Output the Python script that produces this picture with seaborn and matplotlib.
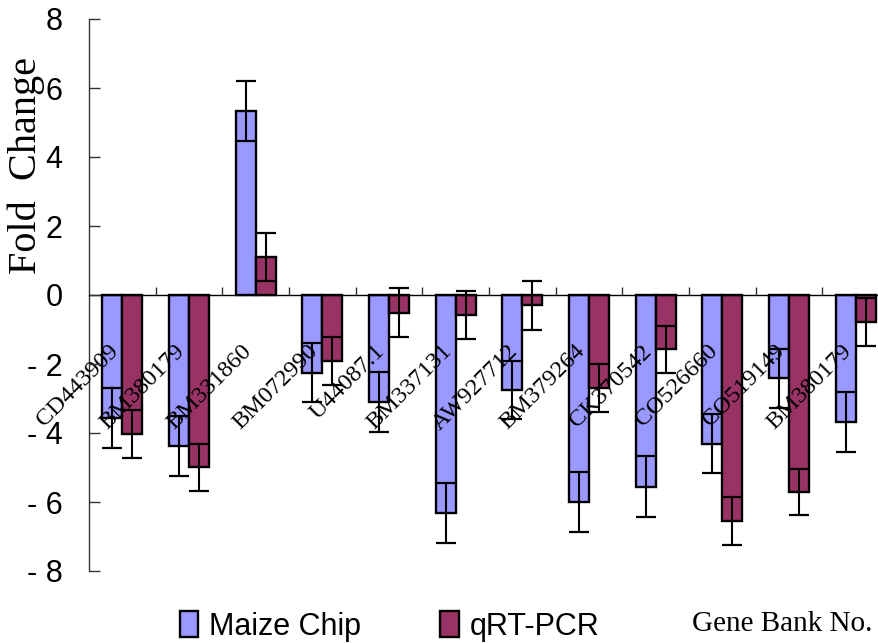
import numpy as np
import pandas as pd
import matplotlib
matplotlib.use("Agg")
import matplotlib.pyplot as plt
import seaborn as sns

# -----------------------------
# Data
# -----------------------------
genes = ["CD443909", "BM380179", "BM331860", "BM072990", "U44087.1", "BM337131",
         "AW927712", "BM379264", "CK370542", "CO526660", "CO519149", "BM380179"]
chip = [-3.57, -4.38, 5.33, -2.25, -3.10, -6.33, -2.76, -5.99, -5.56, -4.31, -2.42, -3.67]
chip_err = [0.87, 0.87, 0.87, 0.86, 0.87, 0.87, 0.84, 0.87, 0.88, 0.86, 0.86, 0.87]
qpcr = [-4.02, -4.99, 1.11, -1.92, -0.51, -0.58, -0.30, -2.69, -1.57, -6.55, -5.71, -0.79]
qpcr_err = [0.70, 0.68, 0.70, 0.70, 0.70, 0.69, 0.70, 0.70, 0.68, 0.70, 0.68, 0.70]
series = ["Maize Chip", "qRT-PCR"]
colors = ["#9999FF", "#993366"]
yticks = [-8, -6, -4, -2, 0, 2, 4, 6, 8]

# gene names repeat, so use positions as the category
df = pd.DataFrame({
    "pos": list(range(len(genes))) * 2,
    "value": chip + qpcr,
    "err": chip_err + qpcr_err,
    "series": [series[0]] * len(genes) + [series[1]] * len(genes),
})

# -----------------------------
# Plot
# -----------------------------
sns.set_style("white")
plt.rcParams["font.family"] = ["Liberation Sans", "DejaVu Sans"]
plt.rcParams["text.color"] = "black"
plt.rcParams["axes.labelcolor"] = "black"
plt.rcParams["xtick.color"] = "black"
plt.rcParams["ytick.color"] = "black"

fig = plt.figure(figsize=(8.79, 6.43), dpi=100)
ax = fig.add_axes([89 / 879, 1 - 571 / 643, 800 / 879, 552 / 643])

sns.barplot(data=df, x="pos", y="value", hue="series", palette=colors,
            width=0.6, edgecolor="black", linewidth=1.7, saturation=1,
            errorbar=None, ax=ax)

# error bars at the centre of each drawn bar
bars = [p for p in ax.patches if p.get_width() > 0][:2 * len(genes)]
xs = [b.get_x() + b.get_width() / 2 for b in bars]
ys = [b.get_height() for b in bars]
ax.errorbar(xs, ys, yerr=df["err"], fmt="none", ecolor="black",
            elinewidth=1.5, capsize=7.5, capthick=1.6, zorder=3)

ax.set_xlim(-0.5, len(genes) - 0.5)
ax.set_ylim(-8, 8)

# spines: left + zero line only
for s in ["top", "right"]:
    ax.spines[s].set_visible(False)
ax.spines["bottom"].set_position(("data", 0))
ax.spines["bottom"].set_color("black")
ax.spines["bottom"].set_linewidth(1.0)
ax.spines["left"].set_color("#333333")
ax.spines["left"].set_linewidth(1.0)
ax.set_axisbelow(False)

ax.set_yticks(yticks)
ax.set_yticklabels([f"- {abs(t)}" if t < 0 else str(t) for t in yticks], fontsize=22)
ax.tick_params(axis="y", direction="in", length=8, width=1, color="#333333",
               labelcolor="black", pad=19, left=True)

ax.set_xticks(range(len(genes)))
ax.set_xticklabels(genes, rotation=45, ha="right", va="top",
                   family="Liberation Serif", fontsize=17.5)
ax.set_xticks(np.arange(0.5, len(genes) - 0.5, 1), minor=True)
ax.tick_params(axis="x", which="major", length=0, pad=33, bottom=True,
               labelcolor="black")
ax.tick_params(axis="x", which="minor", direction="in", length=6, width=1,
               color="#333333", bottom=True)

ax.set_xlabel("")
ax.set_ylabel("Fold  Change", family="Liberation Serif", fontsize=29, color="black")
ax.yaxis.set_label_coords(-0.055, 0.735)

handles, labels = ax.get_legend_handles_labels()
ax.get_legend().remove()
fig.legend(handles, labels, loc="upper left", ncol=2, frameon=False,
           bbox_to_anchor=(180 / 879, 1 - 611 / 643), fontsize=22,
           handlelength=0.6, handleheight=0.95, handletextpad=0.35,
           columnspacing=2.6, borderaxespad=0, borderpad=0)

fig.text(872 / 879, 1 - 631 / 643, "Gene Bank No.", ha="right", va="baseline",
         family="Liberation Serif", fontsize=21)

fig.savefig("out.png", dpi=100)
